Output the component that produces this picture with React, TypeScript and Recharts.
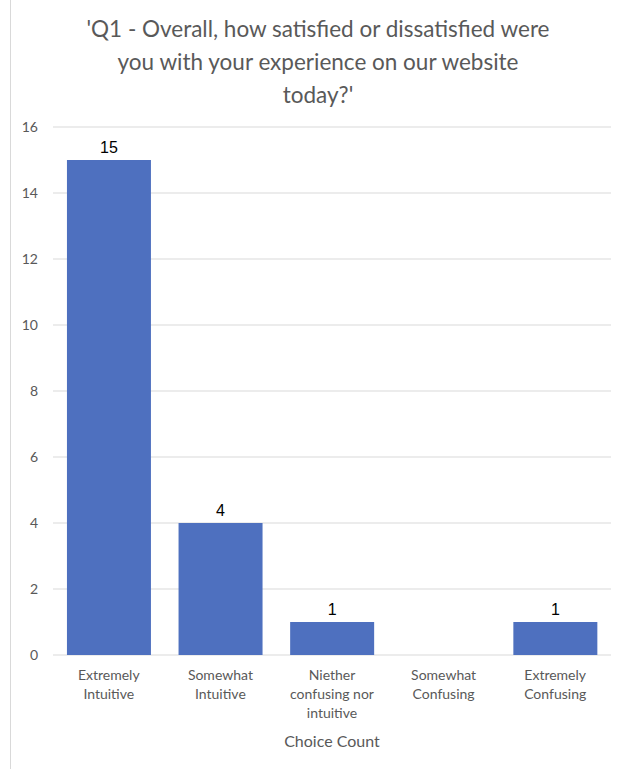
import React from "react";
import { Bar, BarChart, CartesianGrid, LabelList, XAxis, YAxis } from "recharts";

const categories = [
  "Extremely Intuitive",
  "Somewhat Intuitive",
  "Niether confusing nor intuitive",
  "Somewhat Confusing",
  "Extremely Confusing",
];
// how each category name wraps under the axis
const tickLines = [
  ["Extremely", "Intuitive"],
  ["Somewhat", "Intuitive"],
  ["Niether", "confusing nor", "intuitive"],
  ["Somewhat", "Confusing"],
  ["Extremely", "Confusing"],
];
const counts = [15, 4, 1, 0, 1];
const yTicks = [0, 2, 4, 6, 8, 10, 12, 14, 16];
const titleLines = [
  "'Q1 - Overall, how satisfied or dissatisfied were",
  "you with your experience on our website",
  "today?'",
];

const data = categories.map((name, i) => ({ name, count: counts[i], lines: tickLines[i] }));

const GRAY = "#595959";
const FONT = "Lato, 'Open Sans', sans-serif";

type TickProps = { x?: number; y?: number; index?: number };

function WrappedTick({ x = 0, y = 0, index = 0 }: TickProps) {
  const lines = tickLines[index] ?? [];
  return (
    <text x={x} y={y} textAnchor="middle" fill={GRAY} fontSize={14} fontFamily={FONT}>
      {lines.map((l, k) => (
        <tspan key={k} x={x} dy={k === 0 ? 17 : 19}>
          {l}
        </tspan>
      ))}
    </text>
  );
}

type LblProps = { x?: number; y?: number; width?: number; value?: number };

function CountLabel({ x = 0, y = 0, width = 0, value }: LblProps) {
  if (!value) return null;
  return (
    <text
      x={x + width / 2}
      y={y - 7}
      textAnchor="middle"
      fill="#000"
      fontSize={16}
      fontFamily="'Liberation Sans', Arial, sans-serif"
    >
      {value}
    </text>
  );
}

export default function App() {
  return (
    <div
      style={{
        position: "absolute",
        left: 0,
        top: 0,
        width: 620,
        height: 769,
        background: "#fff",
        overflow: "hidden",
      }}
    >
      <div
        style={{
          position: "absolute",
          left: 10,
          top: 0,
          width: 1,
          height: 769,
          background: "#d9d9d9",
        }}
      />
      <div
        style={{
          position: "absolute",
          left: 10,
          top: 12,
          width: 616,
          textAlign: "center",
          fontFamily: FONT,
          fontSize: 22.5,
          lineHeight: "33px",
          color: GRAY,
        }}
      >
        {titleLines.map((t) => (
          <div key={t}>{t}</div>
        ))}
      </div>
      <BarChart
        width={620}
        height={769}
        data={data}
        margin={{ top: 127, right: 9, bottom: 18, left: 0 }}
        barCategoryGap="12.5%"
      >
        <CartesianGrid vertical={false} stroke="#d9d9d9" />
        <XAxis
          dataKey="name"
          height={96}
          axisLine={false}
          tickLine={false}
          interval={0}
          tick={<WrappedTick />}
          label={{
            value: "Choice Count",
            position: "insideBottom",
            offset: 4,
            fill: GRAY,
            fontSize: 16,
            fontFamily: FONT,
          }}
        />
        <YAxis
          width={53}
          domain={[0, 16]}
          ticks={yTicks}
          axisLine={false}
          tickLine={false}
          tickMargin={9}
          tick={{ fill: GRAY, fontSize: 14, fontFamily: FONT }}
        />
        <Bar dataKey="count" fill="#4e70bf" isAnimationActive={false}>
          <LabelList dataKey="count" content={<CountLabel />} />
        </Bar>
      </BarChart>
    </div>
  );
}
